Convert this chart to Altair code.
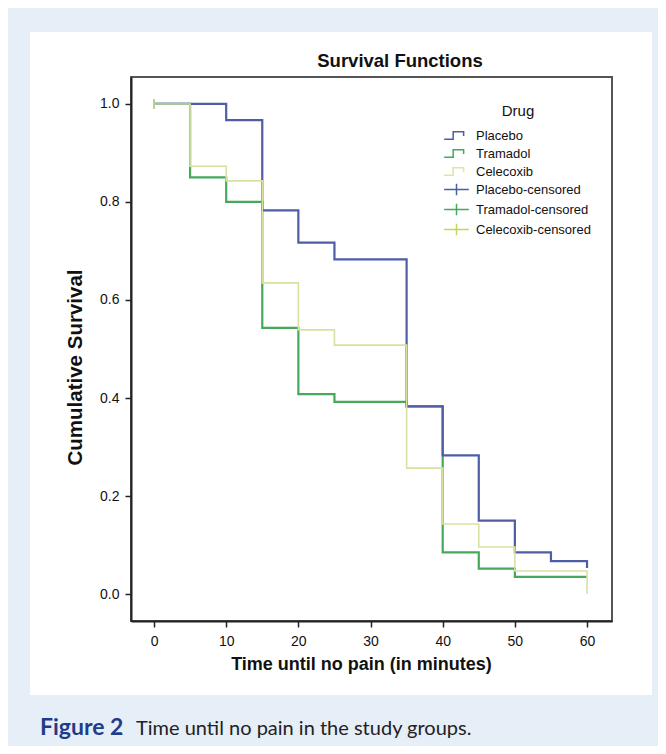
import altair as alt
import pandas as pd

# ---------------- data ----------------
times = [0, 5, 10, 15, 20, 25, 30, 35, 40, 45, 50, 55, 60]
placebo = [1.0, 1.0, 0.967, 0.783, 0.717, 0.683, 0.683, 0.383, 0.283, 0.150, 0.085, 0.067, 0.053]
tramadol = [1.0, 0.850, 0.800, 0.543, 0.408, 0.392, 0.392, 0.383, 0.085, 0.052, 0.035, 0.035, 0.035]
celecoxib = [1.0, 0.873, 0.843, 0.635, 0.539, 0.508, 0.508, 0.257, 0.143, 0.096, 0.047, 0.047, 0.0]

censor_label = ["Celecoxib-censored"]
censor_time = [0]
censor_surv = [1.0]

legend_labels = ["Placebo", "Tramadol", "Celecoxib",
                 "Placebo-censored", "Tramadol-censored", "Celecoxib-censored"]
legend_colors = ["#4E5DA6", "#45A95C", "#DCE6A6", "#4E5DA6", "#45A95C", "#C5D55A"]
line_colors = {"Placebo": "#4E5DA6", "Tramadol": "#45A95C", "Celecoxib": "#D6E2A0"}

x_ticks = [0, 10, 20, 30, 40, 50, 60]
y_ticks = [0.0, 0.2, 0.4, 0.6, 0.8, 1.0]

chart_title = "Survival Functions"
caption_bold = "Figure 2"
caption_text = "Time until no pain in the study groups."

# ---------------- styling ----------------
STEP = "M-1.3,0.4H-0.35V-0.4H0.75V0.05"
CROSS = "M-1.3,0H1.3M0,-0.6V0.6"
legend_shapes = [STEP, STEP, STEP, CROSS, CROSS, CROSS]

FONT = "Liberation Sans"
W, H = 481, 544
PAD = {"left": 123, "top": 69, "right": 650 - 123 - W, "bottom": 738 - 69 - H}

x_enc = alt.X("time:Q",
              scale=alt.Scale(domain=[-3.19, 63.46], nice=False, zero=False),
              axis=alt.Axis(values=x_ticks, title="Time until no pain (in minutes)",
                            format="d", titleX=230, titleY=43, zindex=2, labelPadding=7,
                            titleFontSize=18, titleAlign="center", titleBaseline="middle"))
y_enc = alt.Y("surv:Q",
              scale=alt.Scale(domain=[-0.055, 1.055], nice=False, zero=False),
              axis=alt.Axis(values=y_ticks, title="Cumulative Survival", format=".1f",
                            titleAngle=270, titleX=-56, titleY=290, zindex=2, labelPadding=6,
                            titleFontSize=20.5, titleAlign="center", titleBaseline="middle"))

one = pd.DataFrame({"p": [0]})

# white panel behind the figure and the plot frame
panel = alt.Chart(one).mark_rect(color="white").encode(
    x=alt.value(-101), x2=alt.value(521), y=alt.value(-45), y2=alt.value(618))
frame = alt.Chart(one).mark_rect(fill="transparent", stroke="#555555", strokeWidth=2).encode(
    x=alt.value(0), x2=alt.value(W), y=alt.value(0), y2=alt.value(H))

title_txt = alt.Chart(pd.DataFrame({"t": [chart_title]})).mark_text(
    font=FONT, fontSize=18.5, fontWeight="bold", color="#111111",
    align="center", baseline="alphabetic").encode(
    text="t:N", x=alt.value(269), y=alt.value(-10))

cap1 = alt.Chart(pd.DataFrame({"t": [caption_bold]})).mark_text(
    font="Lato", fontSize=23, fontWeight="bold", color="#1F3C8A",
    align="left", baseline="alphabetic").encode(
    text="t:N", x=alt.value(-91), y=alt.value(658))
cap2 = alt.Chart(pd.DataFrame({"t": [caption_text]})).mark_text(
    font="Lato", fontSize=20, color="#222222",
    align="left", baseline="alphabetic").encode(
    text="t:N", x=alt.value(5), y=alt.value(658))

series = {"Placebo": placebo, "Tramadol": tramadol, "Celecoxib": celecoxib}
line_layers = []
for name, width in [("Tramadol", 2.2), ("Placebo", 2.2), ("Celecoxib", 1.6)]:
    df = pd.DataFrame({"time": times, "surv": series[name], "Drug": name})
    line_layers.append(
        alt.Chart(df).mark_line(interpolate="step-after", strokeWidth=width).encode(
            x=x_enc, y=y_enc, color=alt.value(line_colors[name]))
    )

cens_df = pd.DataFrame({"time": censor_time, "surv": censor_surv, "label": censor_label})
# invisible layer that carries the legend
legend_layer = alt.Chart(cens_df).mark_point(filled=False, strokeWidth=1.5, opacity=0).encode(
    x=x_enc, y=y_enc,
    color=alt.Color("label:N", scale=alt.Scale(domain=legend_labels, range=legend_colors),
                    legend=alt.Legend(title="Drug")),
    shape=alt.Shape("label:N", scale=alt.Scale(domain=legend_labels, range=legend_shapes),
                    legend=alt.Legend(title="Drug")),
)
# visible censor tick
cens = alt.Chart(cens_df).mark_point(filled=False, size=100, strokeWidth=1.8, opacity=1,
                                     shape="M0,-1V1", color="#B9C98C").encode(
    x=x_enc, y=y_enc)

chart = alt.layer(panel, frame, title_txt, cap1, cap2, *line_layers, legend_layer, cens).properties(
    width=W, height=H,
    autosize=alt.AutoSizeParams(type="none"),
    padding=PAD,
    background="#E6EEF8",
).configure_view(
    stroke="transparent", fill="white"
).configure_axis(
    grid=False, domainColor="#222222", domainWidth=2, tickColor="#222222",
    tickWidth=1.5, tickSize=6, labelFont=FONT, labelFontSize=14, labelColor="#111111",
    titleFont=FONT, titleFontWeight="bold", titleColor="#111111"
).configure_legend(
    orient="none", legendX=315, legendY=27, titleFont=FONT, titleFontSize=15,
    titleFontWeight="normal", titleColor="#111111", titleAnchor="middle",
    titlePadding=6, labelFont=FONT, labelFontSize=13, labelColor="#111111",
    labelOffset=9, symbolStrokeWidth=1.5, symbolSize=361, rowPadding=0, symbolOpacity=1,
    symbolFillColor="transparent"
)

chart.save("out.html", embed_options={"renderer": "svg", "actions": False})
